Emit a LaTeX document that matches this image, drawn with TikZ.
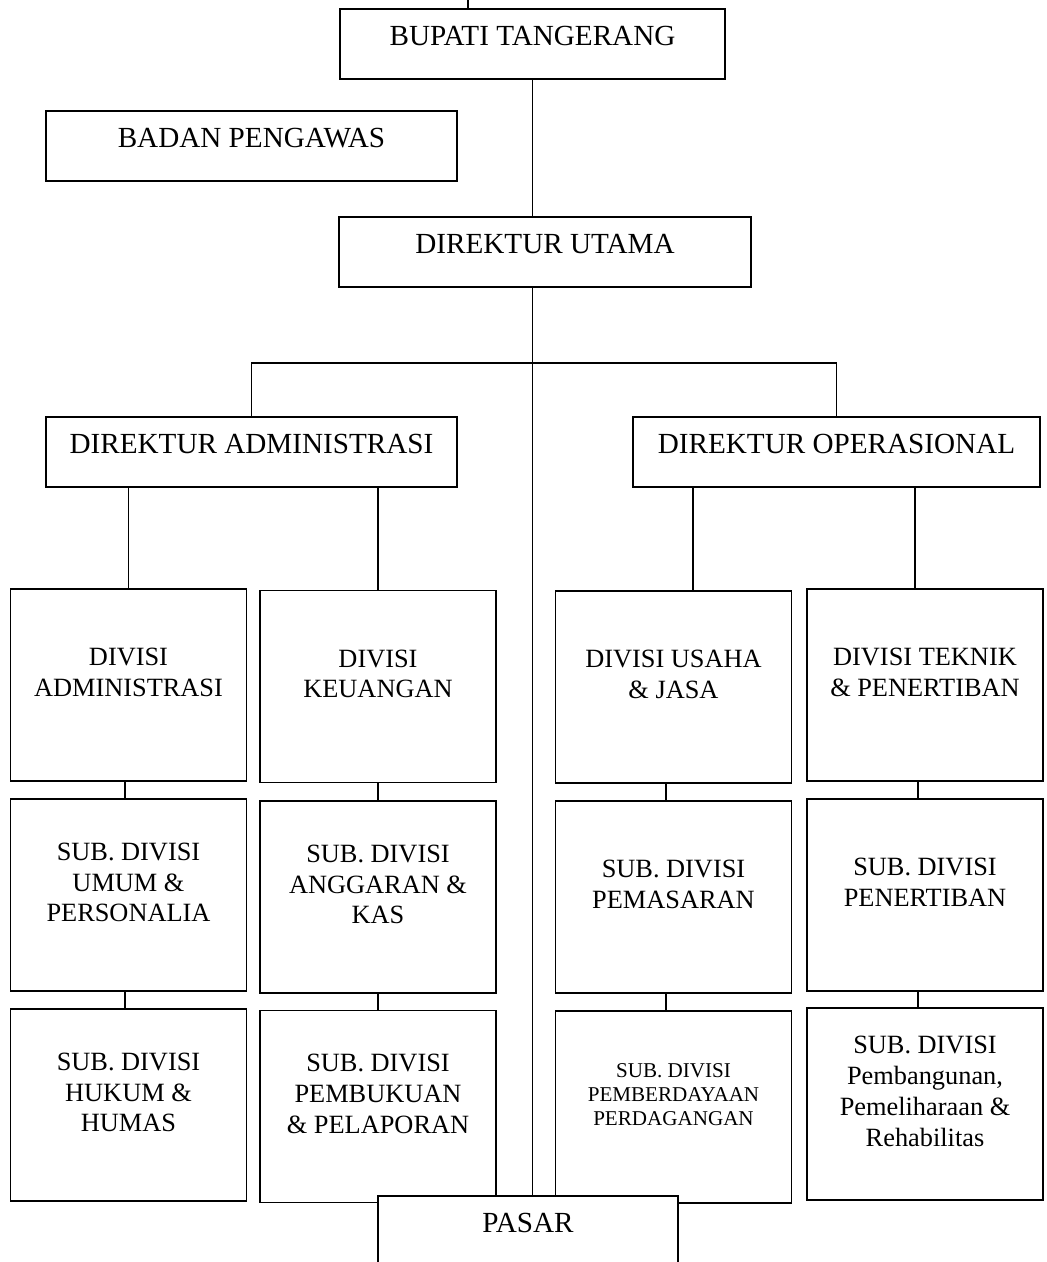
\documentclass[tikz,border=0pt]{standalone}
\usepackage{fontspec}
\setmainfont{Liberation Serif}
\newcommand{\judul}[2]{\parbox[c][1.4cm][c]{#1}{\centering\fontsize{16.6}{19}\selectfont #2\par\vspace{0.32cm}}}
\newcommand{\divisi}[1]{\parbox[c][3.84cm][c]{4.72cm}{\centering\fontsize{15}{17.5}\selectfont #1\par\vspace{0.5cm}}}
\newcommand{\divkecil}[1]{\parbox[c][3.84cm][c]{4.72cm}{\centering\fontsize{12}{13.8}\selectfont #1\par\vspace{0.5cm}}}

\begin{document}
\begin{tikzpicture}[x=0.02cm,y=-0.02cm,
        kotak/.style={draw,rectangle,line width=1pt,fill=white,inner sep=0pt},
        garis/.style={line width=0.6pt}]
        \clip (0,0) rectangle (1047,1262);
        % pimpinan
        \node[kotak] (bupati) at (532.5,44){\judul{7.7cm}{BUPATI TANGERANG}};
        \node[kotak] (badan) at (251.5,146){\judul{8.22cm}{BADAN PENGAWAS}};
        \node[kotak] (dirut) at (545,252){\judul{8.24cm}{DIREKTUR UTAMA}};
        \node[kotak] (diradm) at (251.5,452){\judul{8.22cm}{DIREKTUR ADMINISTRASI}};
        \node[kotak] (dirops) at (836.5,452){\judul{8.14cm}{DIREKTUR OPERASIONAL}};
        % divisi
        \node[kotak] (divadm) at (128.5,685){\divisi{DIVISI\\ADMINISTRASI}};
        \node[kotak] (divkeu) at (378,686.5){\divisi{DIVISI\\KEUANGAN}};
        \node[kotak] (divusaha) at (673.5,687){\divisi{DIVISI USAHA\\\& JASA}};
        \node[kotak] (divtek) at (925,685){\divisi{DIVISI TEKNIK\\\& PENERTIBAN}};
        % sub divisi
        \node[kotak] (subumum) at (128.5,895){\divisi{SUB. DIVISI\\UMUM \&\\PERSONALIA}};
        \node[kotak] (subangg) at (378,897){\divisi{SUB. DIVISI\\ANGGARAN \&\\KAS}};
        \node[kotak] (subpemas) at (673.5,897){\divisi{SUB. DIVISI\\PEMASARAN}};
        \node[kotak] (subpenert) at (925,895){\divisi{SUB. DIVISI\\PENERTIBAN}};
        \node[kotak] (subhukum) at (128.5,1105){\divisi{SUB. DIVISI\\HUKUM \&\\HUMAS}};
        \node[kotak] (subpembuk) at (378,1106.5){\divisi{SUB. DIVISI\\PEMBUKUAN\\\& PELAPORAN}};
        \node[kotak] (subpember) at (673.5,1107){\divkecil{SUB. DIVISI\\PEMBERDAYAAN\\PERDAGANGAN}};
        \node[kotak] (subpemb) at (925,1104){\divisi{SUB. DIVISI\\Pembangunan,\\Pemeliharaan \&\\Rehabilitas}};
        % garis
        \coordinate (tanda) at (468,0);
        \coordinate (bus) at (533,363);
        \coordinate (usahatop) at ([xshift=0.39cm]divusaha.north);
        \coordinate (tektop) at ([xshift=-0.2cm]divtek.north);
        \draw[garis] (tanda) -- (tanda |- bupati.north);
        \draw[garis] (bupati.south) -- (bupati.south |- dirut.north);
        \draw[garis] (diradm.north) |- (bus) -| (dirops.north);
        \draw[garis] (divadm.north |- diradm.south) -- (divadm.north);
        \draw[garis] (divkeu.north |- diradm.south) -- (divkeu.north);
        \draw[garis] (usahatop |- dirops.south) -- (usahatop);
        \draw[garis] (tektop |- dirops.south) -- (tektop);
        \foreach \atas/\bawah/\geser in {divadm/subumum/-0.07cm, subumum/subhukum/-0.07cm,
            divkeu/subangg/0cm, subangg/subpembuk/0cm,
            divusaha/subpemas/-0.15cm, subpemas/subpember/-0.15cm,
            divtek/subpenert/-0.14cm, subpenert/subpemb/-0.14cm}
            \draw[garis] ([xshift=\geser]\atas.south) -- ([xshift=\geser]\bawah.north);
        \node[kotak] (pasar) at (528,1231){\judul{6cm}{PASAR}};
        \draw[garis] (dirut.south -| bupati.south) -- (pasar.north -| bupati.south);
    \end{tikzpicture}
\end{document}
